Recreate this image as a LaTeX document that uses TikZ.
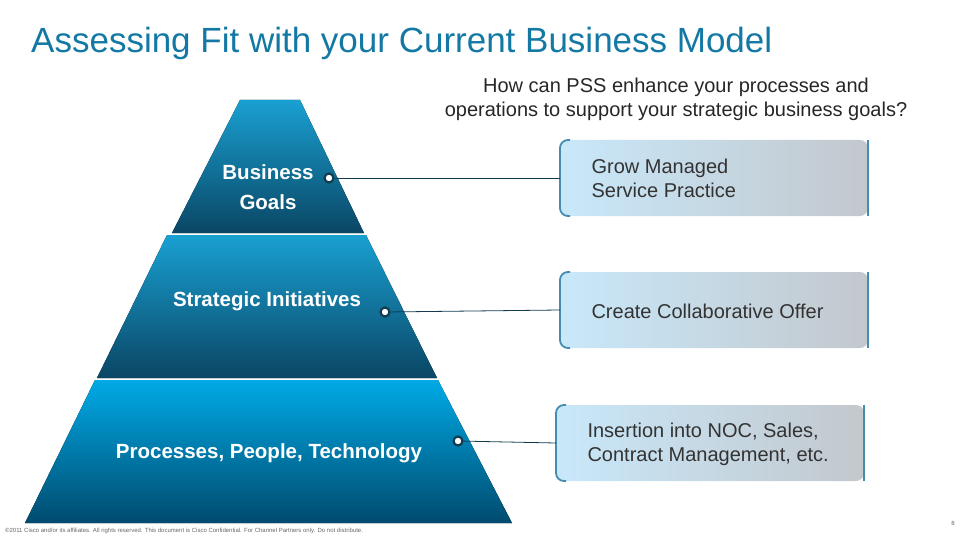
\documentclass[tikz,border=0pt]{standalone}
\usepackage{fontspec}
\setmainfont{Liberation Sans}
\definecolor{ttl}{RGB}{20,120,165}
\definecolor{ptop}{RGB}{25,160,210}
\definecolor{pbot}{RGB}{10,70,100}
\definecolor{pbot3}{RGB}{0,75,110}
\definecolor{ptop3}{RGB}{0,170,230}
\definecolor{bxl}{RGB}{200,232,250}
\definecolor{bxr}{RGB}{195,200,205}
\definecolor{bxe}{RGB}{70,140,175}
\definecolor{lnc}{RGB}{20,60,80}
\begin{document}
\begin{tikzpicture}[x=1pt,y=-1pt,
  lbl/.style={text=white,font=\bfseries\fontsize{20.5}{30}\selectfont,align=center},
  btxt/.style={font=\fontsize{20}{24}\selectfont,align=left,anchor=west,text=black!80},
  dotn/.style={circle,draw=lnc,line width=2.2pt,fill=white,inner sep=0pt,minimum size=9pt},
  conn/.style={draw=lnc,line width=0.8pt}]
\useasboundingbox (0,0) rectangle (960,540);
% pyramid
\fill[top color=ptop,bottom color=pbot] (240,100) -- (300,100) -- (364,233) -- (172,233) -- cycle;
\fill[top color=ptop,bottom color=pbot] (167,235) -- (366,235) -- (437,378) -- (97,378) -- cycle;
\fill[top color=ptop3,bottom color=pbot3] (95,380) -- (438,380) -- (512,523) -- (25,523) -- cycle;
\node[lbl] (t1) at (268,187) {Business\\Goals};
\node[lbl] (t2) at (267,301) {Strategic Initiatives};
\node[lbl] (t3) at (269,453) {Processes, People, Technology};
% boxes
\foreach \n/\x/\y in {b1/560/140,b2/560/272,b3/556/405}{
  \shade[left color=bxl,right color=bxr,rounded corners=8pt] (\x,\y) rectangle (\x+308,\y+76);
  \draw[bxe,line width=1.8pt] (\x+10,\y) [rounded corners=8pt]-- (\x,\y) -- (\x,\y+76) -- (\x+10,\y+76);
  \draw[bxe,line width=1.5pt] (\x+308,\y) -- (\x+308,\y+76);
  \coordinate (\n) at (\x,\y+38);
}
\node[btxt] (x1) at (588,178) {Grow Managed\\Service Practice};
\node[btxt] (x2) at (588,311) {Create Collaborative Offer};
\node[btxt] (x3) at (584,444) {Insertion into NOC, Sales,\\Contract Management, etc.};
% connectors
\node[dotn] (d1) at (329,178) {};
\node[dotn] (d2) at (385,312) {};
\node[dotn] (d3) at (458,441) {};
\draw[conn] (d1) -- (b1);
\draw[conn] (d2) -- (b2);
\draw[conn] (d3) -- (b3);
% texts
\node[anchor=west,text=ttl,font=\fontsize{35}{40}\selectfont,inner sep=0] (title) at (31,43) {Assessing Fit with your Current Business Model};
\node[align=center,font=\fontsize{20}{24}\selectfont,text=black!85] (q) at (676,99) {How can PSS enhance your processes and\\operations to support your strategic business goals?};
\node[anchor=west,font=\fontsize{6}{7}\selectfont,text=black!60,inner sep=0] (f) at (5,531) {©2011 Cisco and/or its affiliates. All rights reserved. This document is Cisco Confidential. For Channel Partners only. Do not distribute.};
\node[font=\fontsize{6}{7}\selectfont,text=black!60] (pg) at (953,523) {8};
\end{tikzpicture}
\end{document}
